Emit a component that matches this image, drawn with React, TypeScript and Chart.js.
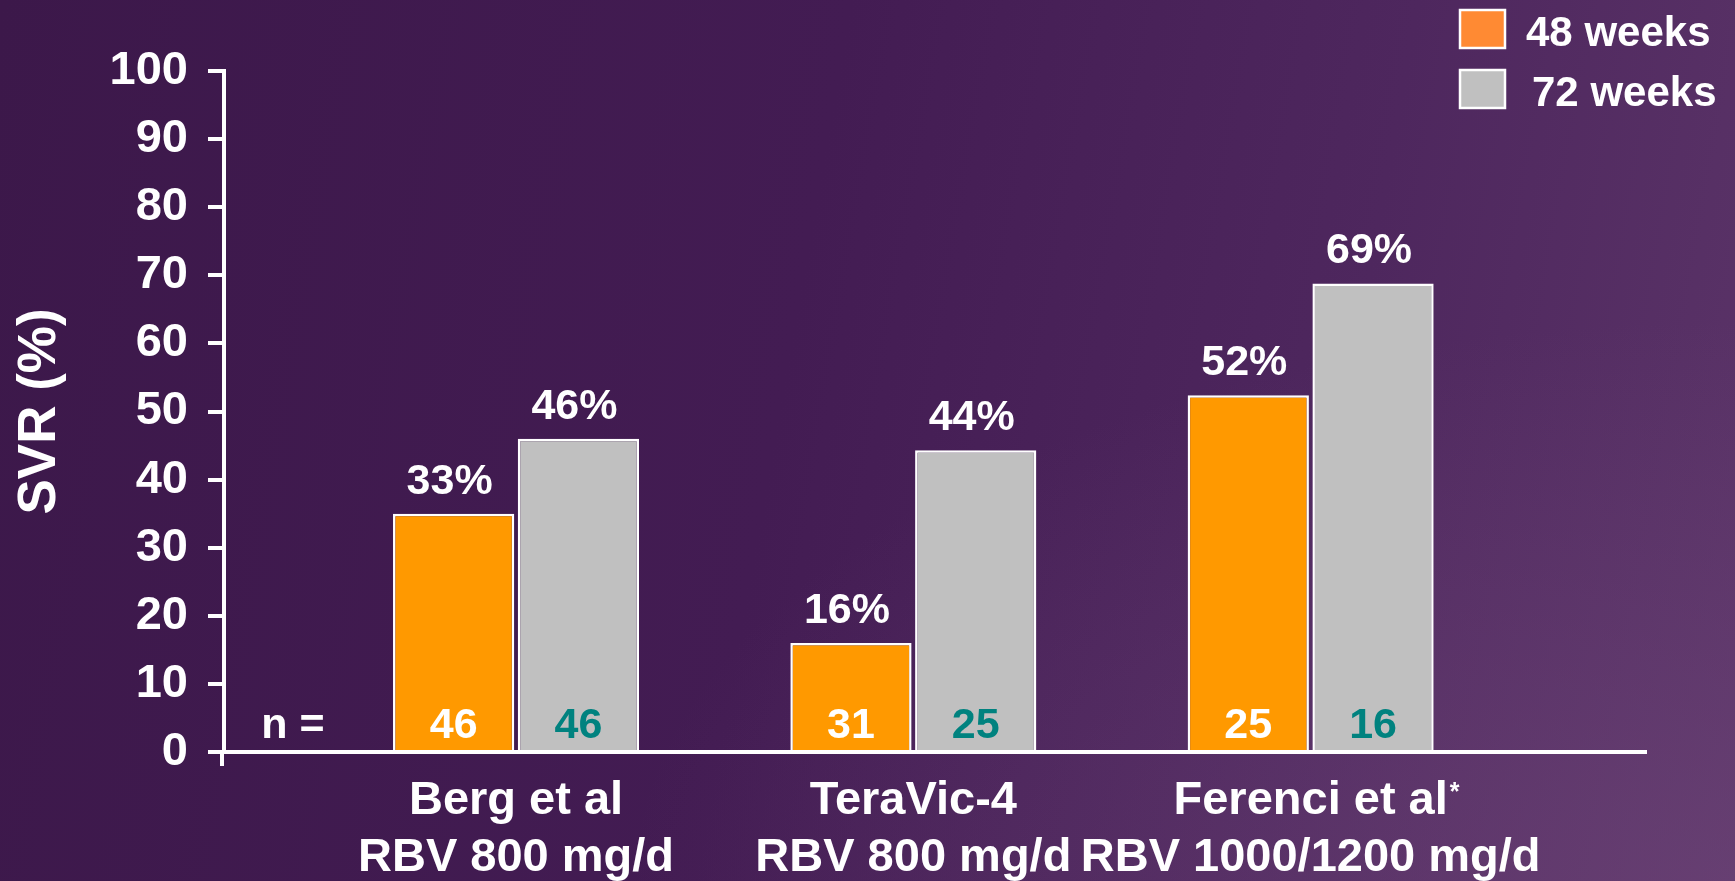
import React, { useEffect, useRef } from 'react';
import { Chart, registerables } from 'chart.js';

Chart.register(...registerables);

// ---- data ----
const studies = ['Berg et al', 'TeraVic-4', 'Ferenci et al'];
const doses = ['RBV 800 mg/d', 'RBV 800 mg/d', 'RBV 1000/1200 mg/d'];
const footnoteMarks = ['', '', '*'];
const seriesNames = ['48 weeks', '72 weeks'];
const svr48 = [35, 16, 52.4];
const svr72 = [46, 44.3, 68.8];
const pctLabels48 = ['33%', '16%', '52%'];
const pctLabels72 = ['46%', '44%', '69%'];
const n48 = [46, 31, 25];
const n72 = [46, 25, 16];
const nPrefix = 'n =';
const yTitle = 'SVR (%)';

const barColors = ['#FF9900', '#C0C0C0'];
const legendColors = ['#FF8A33', '#C0C0C0'];
const nColors = ['#FFFFFF', '#00827F'];
const FONT = "'Liberation Sans', Arial, Helvetica, sans-serif";

const pctLabels = [pctLabels48, pctLabels72];
const nValues = [n48, n72];

const annotatePlugin = {
  id: 'annotate',
  afterDatasetsDraw(chart: any) {
    const { ctx, chartArea } = chart;
    ctx.save();
    ctx.textAlign = 'center';
    ctx.textBaseline = 'alphabetic';
    chart.data.datasets.forEach((_ds: any, di: number) => {
      const meta = chart.getDatasetMeta(di);
      meta.data.forEach((bar: any, i: number) => {
        ctx.fillStyle = '#FFFFFF';
        ctx.font = `bold 43px ${FONT}`;
        ctx.fillText(pctLabels[di][i], bar.x - 4, bar.y - 20);
        ctx.font = `bold 43px ${FONT}`;
        ctx.fillStyle = nColors[di];
        ctx.fillText(String(nValues[di][i]), bar.x, chartArea.bottom - 14);
      });
    });
    ctx.fillStyle = '#FFFFFF';
    ctx.font = `bold 43px ${FONT}`;
    ctx.fillText(nPrefix, chartArea.left + 69, chartArea.bottom - 14);
    ctx.restore();
  },
  afterDraw(chart: any) {
    const { ctx, chartArea, scales } = chart;
    ctx.save();
    // small stub of the y axis below the x axis
    ctx.strokeStyle = '#FFFFFF';
    ctx.lineWidth = 4;
    ctx.beginPath();
    ctx.moveTo(chartArea.left - 2, chartArea.bottom);
    ctx.lineTo(chartArea.left - 2, chartArea.bottom + 14);
    ctx.stroke();

    // footnote marks on category labels
    const xs = scales.x;
    footnoteMarks.forEach((m, i) => {
      if (!m) return;
      ctx.font = `bold 47px ${FONT}`;
      const px = xs.getPixelForValue(i + 1);
      const w = ctx.measureText(studies[i]).width;
      ctx.font = `bold 25px ${FONT}`;
      ctx.fillStyle = '#FFFFFF';
      ctx.textAlign = 'left';
      ctx.textBaseline = 'top';
      ctx.fillText(m, px + w / 2 + 2, xs.top + 29);
    });

    // legend
    const bx = chart.width - 275;
    const rows = [10, 70];
    const textX = [bx + 66, bx + 72];
    seriesNames.forEach((name, i) => {
      ctx.fillStyle = legendColors[i];
      ctx.fillRect(bx, rows[i], 45, 38);
      ctx.strokeStyle = '#FFFFFF';
      ctx.lineWidth = 2.5;
      ctx.strokeRect(bx, rows[i], 45, 38);
      ctx.fillStyle = '#FFFFFF';
      ctx.font = `bold 42px ${FONT}`;
      ctx.textAlign = 'left';
      ctx.textBaseline = 'alphabetic';
      ctx.fillText(name, textX[i], rows[i] + 36);
    });
    ctx.restore();
  },
};

export default function App() {
  const canvasRef = useRef<HTMLCanvasElement | null>(null);

  useEffect(() => {
    document.body.style.margin = '0';
    const canvas = canvasRef.current;
    if (!canvas) return;
    const toPoints = (vals: number[]) => vals.map((v, i) => ({ x: i + 1, y: v }));
    const chart = new Chart(canvas, {
      type: 'bar',
      data: {
        datasets: [
          {
            label: seriesNames[0],
            data: toPoints(svr48),
            backgroundColor: barColors[0],
            borderColor: '#FFFFFF',
            borderWidth: 2.5,
          },
          {
            label: seriesNames[1],
            data: toPoints(svr72),
            backgroundColor: barColors[1],
            borderColor: '#FFFFFF',
            borderWidth: 2.5,
          },
        ],
      },
      options: {
        animation: false,
        responsive: true,
        maintainAspectRatio: false,
        layout: { padding: { top: 71, right: 89, bottom: 0, left: 0 } },
        datasets: {
          bar: { categoryPercentage: 0.628, barPercentage: 0.972 },
        },
        plugins: {
          legend: { display: false },
          tooltip: { enabled: false },
        },
        scales: {
          x: {
            type: 'linear',
            min: 0.265,
            max: 3.844,
            offset: false,
            z: 1,
            grid: { display: false, drawTicks: false, offset: false },
            border: { display: true, color: '#FFFFFF', width: 4 },
            afterBuildTicks: (scale: any) => {
              scale.ticks = studies.map((_s, i) => ({ value: i + 1 }));
            },
            afterFit: (scale: any) => {
              scale.height = 129;
            },
            ticks: {
              autoSkip: false,
              maxRotation: 0,
              minRotation: 0,
              padding: 21,
              color: '#FFFFFF',
              font: { family: FONT, size: 47, weight: 'bold', lineHeight: 1.2 },
              callback: (_v: any, i: number) => [studies[i], doses[i]],
            },
          },
          y: {
            min: 0,
            max: 100,
            z: 1,
            afterFit: (scale: any) => {
              scale.width = 224;
            },
            ticks: {
              stepSize: 10,
              padding: 20,
              color: '#FFFFFF',
              font: { family: FONT, size: 47, weight: 'bold' },
            },
            grid: {
              display: true,
              drawOnChartArea: false,
              drawTicks: true,
              tickLength: 16,
              tickWidth: 4,
              tickColor: '#FFFFFF',
              color: '#FFFFFF',
              lineWidth: 4,
            },
            border: { display: true, color: '#FFFFFF', width: 4 },
            title: {
              display: true,
              text: yTitle,
              color: '#FFFFFF',
              font: { family: FONT, size: 53, weight: 'bold', lineHeight: 1.2 },
              padding: { top: 9, bottom: 0 },
            },
          },
        },
      },
      plugins: [annotatePlugin],
    } as any);
    return () => chart.destroy();
  }, []);

  return (
    <div
      style={{
        position: 'relative',
        width: 1735,
        height: 881,
        background:
          'radial-gradient(ellipse at 100% 100%, rgba(112,72,122,0.55) 0%, rgba(112,72,122,0) 45%), linear-gradient(100deg, #3C184A 0%, #431C53 45%, #4E275E 75%, #5B3468 100%)',
      }}
    >
      <canvas ref={canvasRef} />
    </div>
  );
}
